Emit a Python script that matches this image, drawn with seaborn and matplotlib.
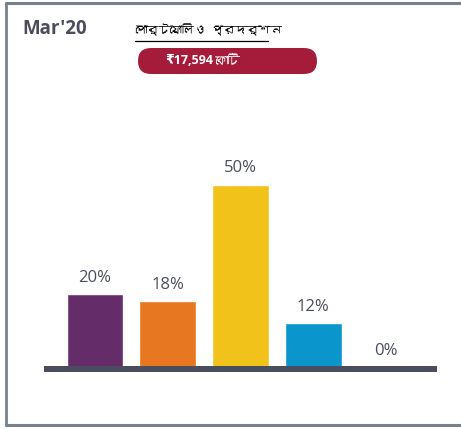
import matplotlib
matplotlib.use("Agg")
import matplotlib.pyplot as plt
import seaborn as sns
import pandas as pd
from matplotlib import font_manager
from matplotlib.ft2font import FT2Font
from matplotlib.patches import FancyBboxPatch
from matplotlib.lines import Line2D

# data
categories = ["cat1", "cat2", "cat3", "cat4", "cat5"]
values = [20, 18, 50, 12, 0]
labels = ["20%", "18%", "50%", "12%", "0%"]
colors = ["#642d69", "#e87722", "#f1c31a", "#0a96cc", "#9aa0a8"]
period = "Mar'20"
title = "পোর্টফোলিও প্রদর্শন"
aum_amount = "₹17,594"
aum_unit = "কোটি"

# look for a font that has bengali glyphs, if any
bn_font = None
for f in font_manager.fontManager.ttflist:
    try:
        if FT2Font(f.fname).get_char_index(0x09AA):
            bn_font = f.name
            break
    except Exception:
        pass
bn_family = [bn_font, "DejaVu Sans"] if bn_font else ["DejaVu Sans"]

sns.set_style("white")
plt.rcParams["font.family"] = ["Open Sans", "DejaVu Sans"]

text_col = "#4a4d5e"
W, H = 461, 429
fig = plt.figure(figsize=(W / 100, H / 100), dpi=100)

# bars: y=0 at pixel 367 from top, 3.65 px per %
ax = fig.add_axes([44 / W, (H - 374.3) / H, (437 - 44) / W, 57 * 3.65 / H])
df = pd.DataFrame({"cat": categories, "val": values})
sns.barplot(data=df, x="cat", y="val", hue="cat", palette=colors,
            width=0.78, legend=False, ax=ax, saturation=1, zorder=2)
ax.set_xlim(-0.7, 4.7)
ax.set_ylim(-2, 55)
ax.axhspan(-1.4, 0.25, color=text_col, zorder=3, lw=0)
for i, (v, lab) in enumerate(zip(values, labels)):
    ax.annotate(lab, (i, v), xytext=(0, 6), textcoords="offset points",
                ha="center", va="bottom", fontsize=12, color=text_col)
ax.axis("off")

# frame around the card
fc = "#76818b"
fig.add_artist(Line2D([6 / W, 6 / W], [(H - 3) / H, (H - 425) / H],
                      transform=fig.transFigure, color=fc, lw=2))
fig.add_artist(Line2D([6 / W, 1], [(H - 3) / H, (H - 3) / H],
                      transform=fig.transFigure, color=fc, lw=2.2))
fig.add_artist(Line2D([6 / W, 1], [(H - 425) / H, (H - 425) / H],
                      transform=fig.transFigure, color=fc, lw=2.2))

# header
fig.text(22 / W, (H - 29) / H, period, fontsize=13.5, fontweight="bold",
         color=text_col, va="center", ha="left")
fig.text(135 / W, (H - 30) / H, title, fontsize=8.5, color="black",
         va="center", ha="left", family=bn_family)
fig.add_artist(Line2D([135 / W, 268 / W], [(H - 41) / H, (H - 41) / H],
                      transform=fig.transFigure, color="black", lw=0.9))

pill = FancyBboxPatch((138, H - 74), 179, 26, transform=None,
                      boxstyle="round,pad=0,rounding_size=13",
                      fc="#a51c3a", ec="none")
fig.add_artist(pill)
fig.text(213 / W, (H - 61) / H, aum_amount, fontsize=9, fontweight="bold",
         color="white", va="center", ha="right")
fig.text(215 / W, (H - 61) / H, aum_unit, fontsize=9, color="white",
         va="center", ha="left", family=bn_family)

fig.savefig("out.png", dpi=100)
